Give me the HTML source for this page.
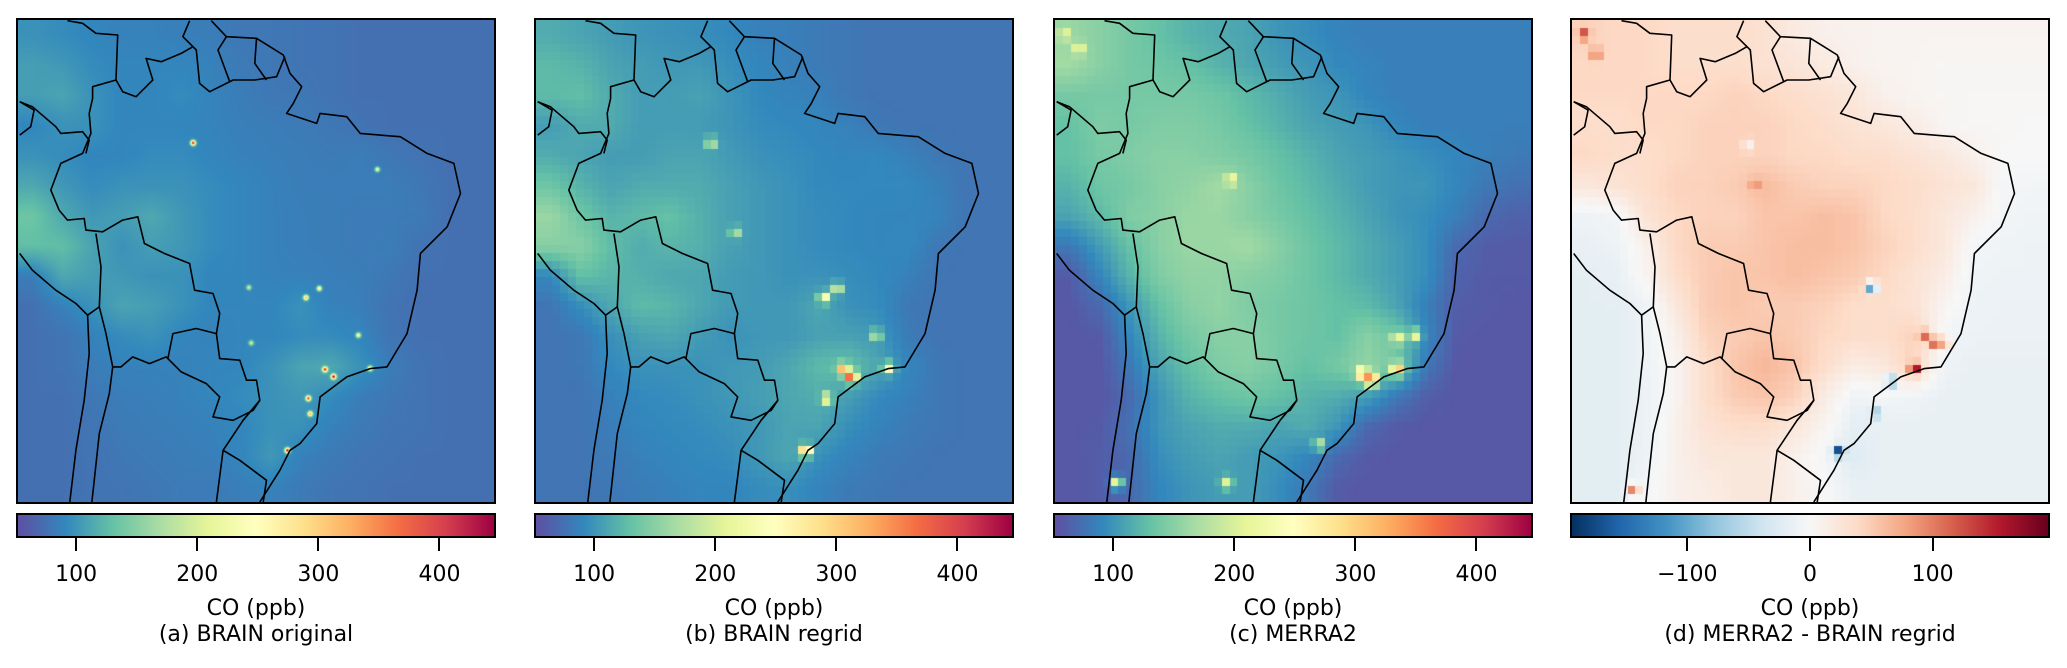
<!DOCTYPE html>
<html><head><meta charset="utf-8">
<style>
html,body{margin:0;padding:0;background:#fff;}
body{width:2067px;height:668px;position:relative;overflow:hidden;font-family:"DejaVu Sans","Liberation Sans",sans-serif;}
.panel{position:absolute;top:20px;width:476px;height:482px;}
.panel canvas{position:absolute;left:0;top:0;width:476px;height:482px;}
.panel svg{position:absolute;left:0;top:0;}
.frame{position:absolute;left:-2px;top:-2px;width:476px;height:482px;border:2px solid #000;}
.cbar{position:absolute;top:513px;width:476px;height:25px;box-sizing:border-box;border:2px solid #000;}
.tick{position:absolute;top:538px;width:2px;height:13px;background:#000;}
.tlab{position:absolute;top:562px;font-size:22px;color:#000;transform:translateX(-50%);white-space:nowrap;}
.lab{position:absolute;font-size:22px;color:#000;transform:translateX(-50%);white-space:nowrap;}
</style></head>
<body>
<div id="root"></div>
<script>
// ---- data ----
const panelTitles = ["(a) BRAIN original","(b) BRAIN regrid","(c) MERRA2","(d) MERRA2 - BRAIN regrid"];
const seqTicks = [100,200,300,400];
const seqTickLabels = ["100","200","300","400"];
const divTicks = [-100,0,100];
const divTickLabels = ["\u2212100","0","100"];
const seqRange = [52,445];
const divRange = [-194,194];

const gridA = [
[98,94,90,87,87,85,84,80,80,78,77,75,75,75,75,75],
[106,102,94,90,90,90,87,82,80,78,77,75,75,75,75,75],
[106,110,98,90,90,94,88,84,80,80,77,75,75,75,75,75],
[90,98,98,90,90,90,88,85,84,82,80,77,75,75,75,75],
[98,94,90,90,94,94,90,87,85,84,82,84,80,77,75,75],
[113,102,94,98,98,98,94,90,87,84,84,84,84,80,75,75],
[135,113,102,106,113,102,94,90,87,85,84,82,82,82,75,75],
[128,128,110,98,106,102,94,90,87,85,84,82,84,77,75,75],
[84,113,106,102,98,98,90,90,87,87,85,84,80,75,75,75],
[75,87,98,110,106,98,90,90,90,98,87,85,77,75,75,75],
[75,77,87,94,98,90,87,90,90,94,94,90,78,75,75,75],
[75,77,84,87,87,87,90,90,98,110,113,98,84,77,75,75],
[75,75,80,84,85,87,90,94,98,102,94,84,80,77,75,75],
[75,75,78,82,84,85,87,90,98,98,87,82,78,77,75,75],
[75,75,77,80,82,84,85,90,102,87,82,78,77,75,75,75],
[75,75,77,78,80,82,82,85,87,82,78,77,75,75,75,75]];
const hotA = [[0.663,0.74,445],[0.645,0.725,420],[0.74,0.723,300],[0.566,0.893,440],[0.368,0.255,420],[0.633,0.557,270],[0.605,0.576,330],[0.715,0.654,250],[0.61,0.785,400],[0.614,0.817,330],[0.485,0.555,200],[0.755,0.31,230],[0.49,0.67,200]];

const gridB = [
[115,110,105,100,98,95,92,86,85,82,80,78,78,78,78,78],
[125,120,110,105,102,102,96,90,86,82,80,78,78,78,78,78],
[125,128,115,105,105,108,100,92,88,86,80,78,78,78,78,78],
[105,115,115,105,105,104,100,94,92,90,86,80,78,78,78,78],
[115,110,105,105,110,110,104,98,95,92,90,92,86,80,78,78],
[135,120,110,115,115,115,108,102,98,92,92,92,92,86,78,78],
[160,135,120,125,130,118,108,102,98,94,92,90,90,88,78,78],
[150,150,128,115,122,118,108,102,98,94,92,90,92,80,78,78],
[90,130,122,118,112,112,104,102,98,98,95,92,86,78,78,78],
[78,95,112,125,122,112,104,102,102,112,98,94,80,78,78,78],
[78,80,96,108,112,104,98,102,102,108,108,102,82,78,78,78],
[78,80,92,98,98,98,102,104,112,125,130,112,90,80,78,78],
[78,78,86,92,94,98,102,106,112,116,106,92,86,80,78,78],
[78,78,84,90,92,94,98,102,110,110,96,88,82,80,78,78],
[78,78,82,86,90,92,94,102,112,96,88,82,80,78,78,78],
[78,78,80,84,86,90,90,94,96,88,82,80,78,78,78,78]];
const hotB = [[0.663,0.74,420],[0.645,0.725,330],[0.74,0.723,260],[0.566,0.893,400],[0.368,0.255,200],[0.633,0.557,230],[0.605,0.576,250],[0.715,0.654,200],[0.61,0.785,250],[0.42,0.44,180]];

const gridC = [
[160,150,140,130,120,115,110,100,95,88,85,85,85,85,85,85],
[165,150,140,135,130,120,112,105,100,92,88,85,85,85,85,85],
[140,140,140,140,140,135,125,115,105,100,90,85,85,85,85,85],
[130,145,140,145,145,140,130,120,110,105,100,90,85,85,85,85],
[130,140,145,150,150,145,140,130,120,110,105,100,95,90,85,82],
[120,135,140,150,155,165,150,135,125,115,105,100,100,90,80,75],
[110,125,145,150,160,160,150,140,130,120,110,100,95,85,70,65],
[80,105,130,150,160,160,165,150,135,125,115,105,95,70,62,60],
[60,90,120,145,155,155,150,145,135,125,115,105,95,65,60,60],
[58,70,100,130,150,155,145,140,135,130,125,110,85,62,60,58],
[58,60,90,120,140,150,150,140,135,130,150,135,90,60,58,58],
[58,58,80,110,130,145,150,140,130,140,155,140,80,58,58,58],
[58,58,70,100,120,130,135,130,120,115,105,80,62,58,58,58],
[58,60,75,100,110,115,115,110,115,100,70,60,58,58,58,58],
[58,62,70,95,105,110,105,100,90,70,60,58,58,58,58,58],
[58,62,70,90,100,105,105,95,80,60,58,58,58,58,58,58]];
const hotC = [[0.665,0.745,445],[0.645,0.735,330],[0.72,0.725,330],[0.72,0.66,230],[0.755,0.655,230],[0.37,0.33,240],[0.13,0.96,240],[0.36,0.96,210],[0.02,0.03,220],[0.05,0.06,230],[0.555,0.88,190]];

const gridD = [
[45,40,40,35,35,35,30,18,10,8,5,5,5,5,5,5],
[40,40,40,35,35,35,30,25,18,10,5,5,3,3,3,3],
[40,40,40,40,40,45,40,35,30,22,10,5,3,2,2,2],
[35,35,40,40,45,45,45,40,35,28,22,15,3,2,2,0],
[40,35,35,40,45,45,45,40,40,35,35,28,22,10,0,0],
[22,28,35,45,45,50,60,50,45,45,40,35,28,22,-3,-5],
[-10,-5,28,40,45,45,55,55,60,55,40,35,22,10,-5,-8],
[-15,-10,10,40,50,50,55,60,60,55,45,35,22,-5,-8,-10],
[-20,-15,5,35,50,55,55,60,55,50,40,28,15,-8,-10,-10],
[-20,-20,-10,22,50,55,50,50,45,35,35,28,5,-10,-12,-12],
[-20,-20,-10,10,45,50,55,50,40,35,35,45,-5,-12,-12,-12],
[-20,-20,-10,5,35,55,65,55,35,15,22,45,-10,-15,-15,-15],
[-20,-20,-12,5,35,50,55,45,15,-10,-5,-10,-15,-15,-15,-15],
[-20,-20,-12,10,28,35,35,22,5,-20,-15,-15,-15,-15,-15,-15],
[-20,-20,-10,10,22,22,22,10,-5,-25,-15,-15,-15,-15,-15,-15],
[-20,-20,-5,10,15,22,22,10,0,-15,-15,-15,-15,-15,-15,-15]];
const hotD = [[0.72,0.725,185],[0.74,0.655,120],[0.76,0.67,130],[0.63,0.555,-150],[0.67,0.75,-120],[0.56,0.895,-190],[0.64,0.815,-80],[0.025,0.03,140],[0.05,0.07,120],[0.13,0.975,120],[0.385,0.34,95],[0.37,0.26,0],[0.78,0.67,110]];

// ---- geometry (borders, in reference zoom units) ----
const borders = [
 [[635,62],[680,110],[770,115],[850,165],[870,220],[905,260],[880,310],[860,340],[950,370],[960,340],[1040,350],[1080,400],[1200,410],[1280,460],[1360,490],[1380,580],[1340,680],[1260,760],[1250,870],[1220,1000],[1160,1100],[1110,1105],[1040,1130],[960,1190],[950,1270],[900,1330],[870,1350],[840,1410],[780,1505]],
 [[570,62],[550,110],[590,150],[600,250],[630,275],[700,240],[765,240],[830,230],[855,170]],
 [[680,110],[655,150],[690,245]],
 [[770,115],[765,190],[800,240]],
 [[580,140],[545,160],[485,185],[440,175],[460,240],[410,290],[370,275],[350,240],[355,105],[290,100],[250,70],[205,62]],
 [[350,240],[280,260],[280,295],[270,340],[275,400],[250,460],[185,490],[155,570],[180,630],[205,660],[255,655],[260,690],[310,695],[370,660],[415,650],[435,730],[495,760],[570,790],[585,870],[640,880],[660,940],[650,1000],[660,1075],[720,1080],[740,1140],[770,1140],[780,1200],[730,1260],[670,1350],[650,1505]],
 [[62,305],[100,320],[170,380],[185,400],[250,395],[270,420],[260,460]],
 [[62,405],[95,380],[105,330],[62,305]],
 [[62,760],[100,810],[170,870],[230,910],[265,945],[270,1060],[255,1200],[230,1350],[212,1505]],
 [[265,945],[300,920],[305,800],[290,700]],
 [[300,920],[320,1000],[340,1100],[330,1180],[300,1300],[278,1505]],
 [[340,1100],[365,1100],[400,1070],[450,1090],[500,1070],[545,1115],[620,1150],[660,1190],[640,1250],[700,1260],[760,1230],[780,1200]],
 [[505,1075],[520,1000],[590,985],[650,1000]],
 [[670,1350],[720,1380],[800,1440],[790,1505]]
];

// ---- colormaps ----
const spectralStops=["#5e4fa2","#3288bd","#66c2a5","#abdda4","#e6f598","#ffffbf","#fee08b","#fdae61","#f46d43","#d53e4f","#9e0142"];
const rdbuStops=["#053061","#2166ac","#4393c3","#92c5de","#d1e5f0","#f7f7f7","#fddbc7","#f4a582","#d6604d","#b2182b","#67001f"];
function hex(h){return [parseInt(h.substr(1,2),16),parseInt(h.substr(3,2),16),parseInt(h.substr(5,2),16)];}
function makeMap(stops){const c=stops.map(hex);return function(t){t=Math.max(0,Math.min(1,t));const x=t*(c.length-1);const i=Math.min(c.length-2,Math.floor(x));const f=x-i;return [0,1,2].map(k=>c[i][k]+(c[i+1][k]-c[i][k])*f);};}
const spectral=makeMap(spectralStops), rdbu=makeMap(rdbuStops);

const W=476,H=482;
const lefts=[18,536,1055,1572];
const cfg=[
 {grid:gridA,hot:hotA,range:seqRange,map:spectral,cells:0,ticks:seqTicks,labels:seqTickLabels,stops:spectralStops,r:0.005},
 {grid:gridB,hot:hotB,range:seqRange,map:spectral,cells:60,ticks:seqTicks,labels:seqTickLabels,stops:spectralStops,r:0.011},
 {grid:gridC,hot:hotC,range:seqRange,map:spectral,cells:60,ticks:seqTicks,labels:seqTickLabels,stops:spectralStops,r:0.012},
 {grid:gridD,hot:hotD,range:divRange,map:rdbu,cells:60,ticks:divTicks,labels:divTickLabels,stops:rdbuStops,r:0.011}
];
function sample(grid,u,v){const n=grid[0].length,m=grid.length;let gx=u*n-0.5,gy=v*m-0.5;gx=Math.max(0,Math.min(n-1,gx));gy=Math.max(0,Math.min(m-1,gy));const x0=Math.min(n-2,Math.floor(gx)),y0=Math.min(m-2,Math.floor(gy));const fx=gx-x0,fy=gy-y0;return grid[y0][x0]*(1-fx)*(1-fy)+grid[y0][x0+1]*fx*(1-fy)+grid[y0+1][x0]*(1-fx)*fy+grid[y0+1][x0+1]*fx*fy;}
function valueAt(c,u,v){let val=sample(c.grid,u,v);for(const h of c.hot){const d2=((u-h[0])**2+(v-h[1])**2)/(c.r*c.r);const w=Math.exp(-d2);val=val+(h[2]-val)*w;}return val;}

const root=document.getElementById('root');
function el(tag,cls,parent){const e=document.createElement(tag);if(cls)e.className=cls;(parent||root).appendChild(e);return e;}

cfg.forEach((c,pi)=>{
 const L=lefts[pi];
 const panel=el('div','panel');panel.style.left=L+'px';
 
 
 const cv=el('canvas','',panel);cv.width=W;cv.height=H;
 
 
 const ctx=cv.getContext('2d');const img=ctx.createImageData(W,H);
 const span=c.range[1]-c.range[0];
 for(let y=0;y<H;y++){for(let x=0;x<W;x++){let u=(x+0.5)/W,v=(y+0.5)/H;
  if(c.cells){u=(Math.floor(u*c.cells)+0.5)/c.cells;v=(Math.floor(v*c.cells)+0.5)/c.cells;}
  const col=c.map((valueAt(c,u,v)-c.range[0])/span);const i=(y*W+x)*4;
  img.data[i]=col[0];img.data[i+1]=col[1];img.data[i+2]=col[2];img.data[i+3]=255;}}
 ctx.putImageData(img,0,0);
 const ns='http://www.w3.org/2000/svg';
 const svg=document.createElementNS(ns,'svg');svg.setAttribute('width',W);svg.setAttribute('height',H);
 
 
 borders.forEach(line=>{const p=document.createElementNS(ns,'polyline');
  p.setAttribute('points',line.map(q=>(((q[0]-57)/1423)*W).toFixed(1)+','+(((q[1]-60)/1445)*H).toFixed(1)).join(' '));
  p.setAttribute('fill','none');p.setAttribute('stroke','#000');p.setAttribute('stroke-width','1.6');p.setAttribute('stroke-linejoin','round');
  
  
  svg.appendChild(p);});
 panel.appendChild(svg);
 const fr=el('div','frame',panel);
 
 
 const cb=el('div','cbar');cb.style.left=(L-2)+'px';cb.style.width=(W+4)+'px';
 cb.style.background='linear-gradient(to right,'+c.stops.join(',')+')';
 
 
 const xs=val=>L+(val-c.range[0])/span*W;
 c.ticks.forEach((t,k)=>{const tk=el('div','tick');tk.style.left=(xs(t)-1)+'px';
  
  
  const lb=el('div','tlab');lb.style.left=xs(t)+'px';lb.textContent=c.labels[k];
  
  });
 const u=el('div','lab');u.style.left=(L+W/2)+'px';u.style.top='596px';u.textContent='CO (ppb)';
 
 
 const t=el('div','lab');t.style.left=(L+W/2)+'px';t.style.top='622px';t.textContent=panelTitles[pi];
 
 
});
</script>
</body></html>
